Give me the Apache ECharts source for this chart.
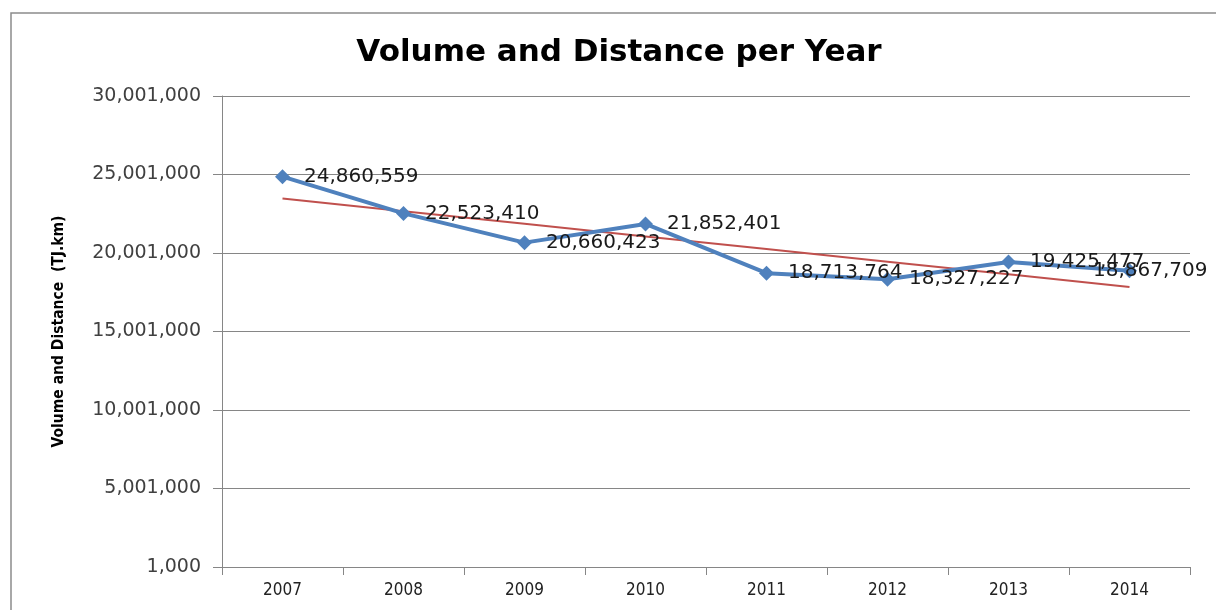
<!DOCTYPE html>
<html>
<head>
<meta charset="utf-8">
<script src="https://cdn.jsdelivr.net/npm/echarts@6/dist/echarts.min.js"></script>
<style>
  html, body { margin: 0; padding: 0; background: #fff; }
  #chart { width: 1216px; height: 610px; }
</style>
</head>
<body>
<div id="chart"></div>
<script>
const years = ['2007', '2008', '2009', '2010', '2011', '2012', '2013', '2014'];
const volumes = [24860559, 22523410, 20660423, 21852401, 18713764, 18327227, 19425477, 18867709];
const yTicks = { min: 1000, max: 30001000, step: 5000000 };

// linear trendline (least squares) over the data
function trend(vals) {
    const n = vals.length;
    const mx = (n - 1) / 2;
    const my = vals.reduce((a, b) => a + b, 0) / n;
    let sxy = 0, sxx = 0;
    vals.forEach((v, i) => { sxy += (i - mx) * (v - my); sxx += (i - mx) * (i - mx); });
    const k = sxy / sxx;
    return vals.map((v, i) => my + k * (i - mx));
}

const fmt = v => Math.round(v).toLocaleString('en-US');

const chart = echarts.init(document.getElementById('chart'));

// last label gets pushed left so it stays inside the frame
const volumeData = volumes.map((v, i) => i === volumes.length - 1
    ? { value: v, label: { offset: [-58, 0] } }
    : v);

chart.setOption({
    animation: false,
    title: {
        text: 'Volume and Distance per Year',
        left: 614, top: 32, textAlign: 'center',
        textStyle: { fontFamily: 'DejaVu Sans', fontWeight: 'bold', fontSize: 31, color: '#000' }
    },
    graphic: [{
        type: 'rect',
        shape: { x: 11, y: 13, width: 1220, height: 620 },
        style: { fill: 'none', stroke: '#8c8c8c', lineWidth: 1.5 },
        silent: true
    }],
    grid: { left: 222, right: 26, top: 96, bottom: 43 },
    xAxis: {
        type: 'category',
        data: years,
        boundaryGap: true,
        axisLine: { lineStyle: { color: '#868686' } },
        axisTick: { show: true, length: 8, lineStyle: { color: '#868686' } },
        axisLabel: { margin: 15, fontFamily: 'DejaVu Sans Condensed', fontSize: 17, color: '#222' }
    },
    yAxis: {
        type: 'value',
        min: yTicks.min, max: yTicks.max, interval: yTicks.step,
        name: 'Volume and Distance  (TJ.km)',
        nameLocation: 'middle',
        nameGap: 155,
        nameTextStyle: { fontFamily: 'DejaVu Sans Condensed', fontWeight: 'bold', fontSize: 15.5, color: '#000' },
        axisLine: { show: true, lineStyle: { color: '#868686' } },
        axisTick: { show: true, length: 9, lineStyle: { color: '#868686' } },
        splitLine: { lineStyle: { color: '#868686' } },
        axisLabel: { margin: 21, fontFamily: 'DejaVu Sans', fontSize: 19, color: '#404040', formatter: fmt }
    },
    series: [
        {
            name: 'Volume',
            type: 'line',
            data: volumeData,
            symbol: 'diamond',
            symbolSize: 15,
            lineStyle: { color: '#4f81bd', width: 4 },
            itemStyle: { color: '#4f81bd' },
            label: {
                show: true, position: 'right', distance: 14,
                fontFamily: 'DejaVu Sans', fontSize: 20, color: '#1a1a1a',
                formatter: p => fmt(p.value)
            },
            z: 3
        },
        {
            name: 'Trend',
            type: 'line',
            data: trend(volumes),
            symbol: 'none',
            lineStyle: { color: '#c0504d', width: 2 },
            z: 2
        }
    ]
});
window.addEventListener('resize', () => chart.resize());
</script>
</body>
</html>
